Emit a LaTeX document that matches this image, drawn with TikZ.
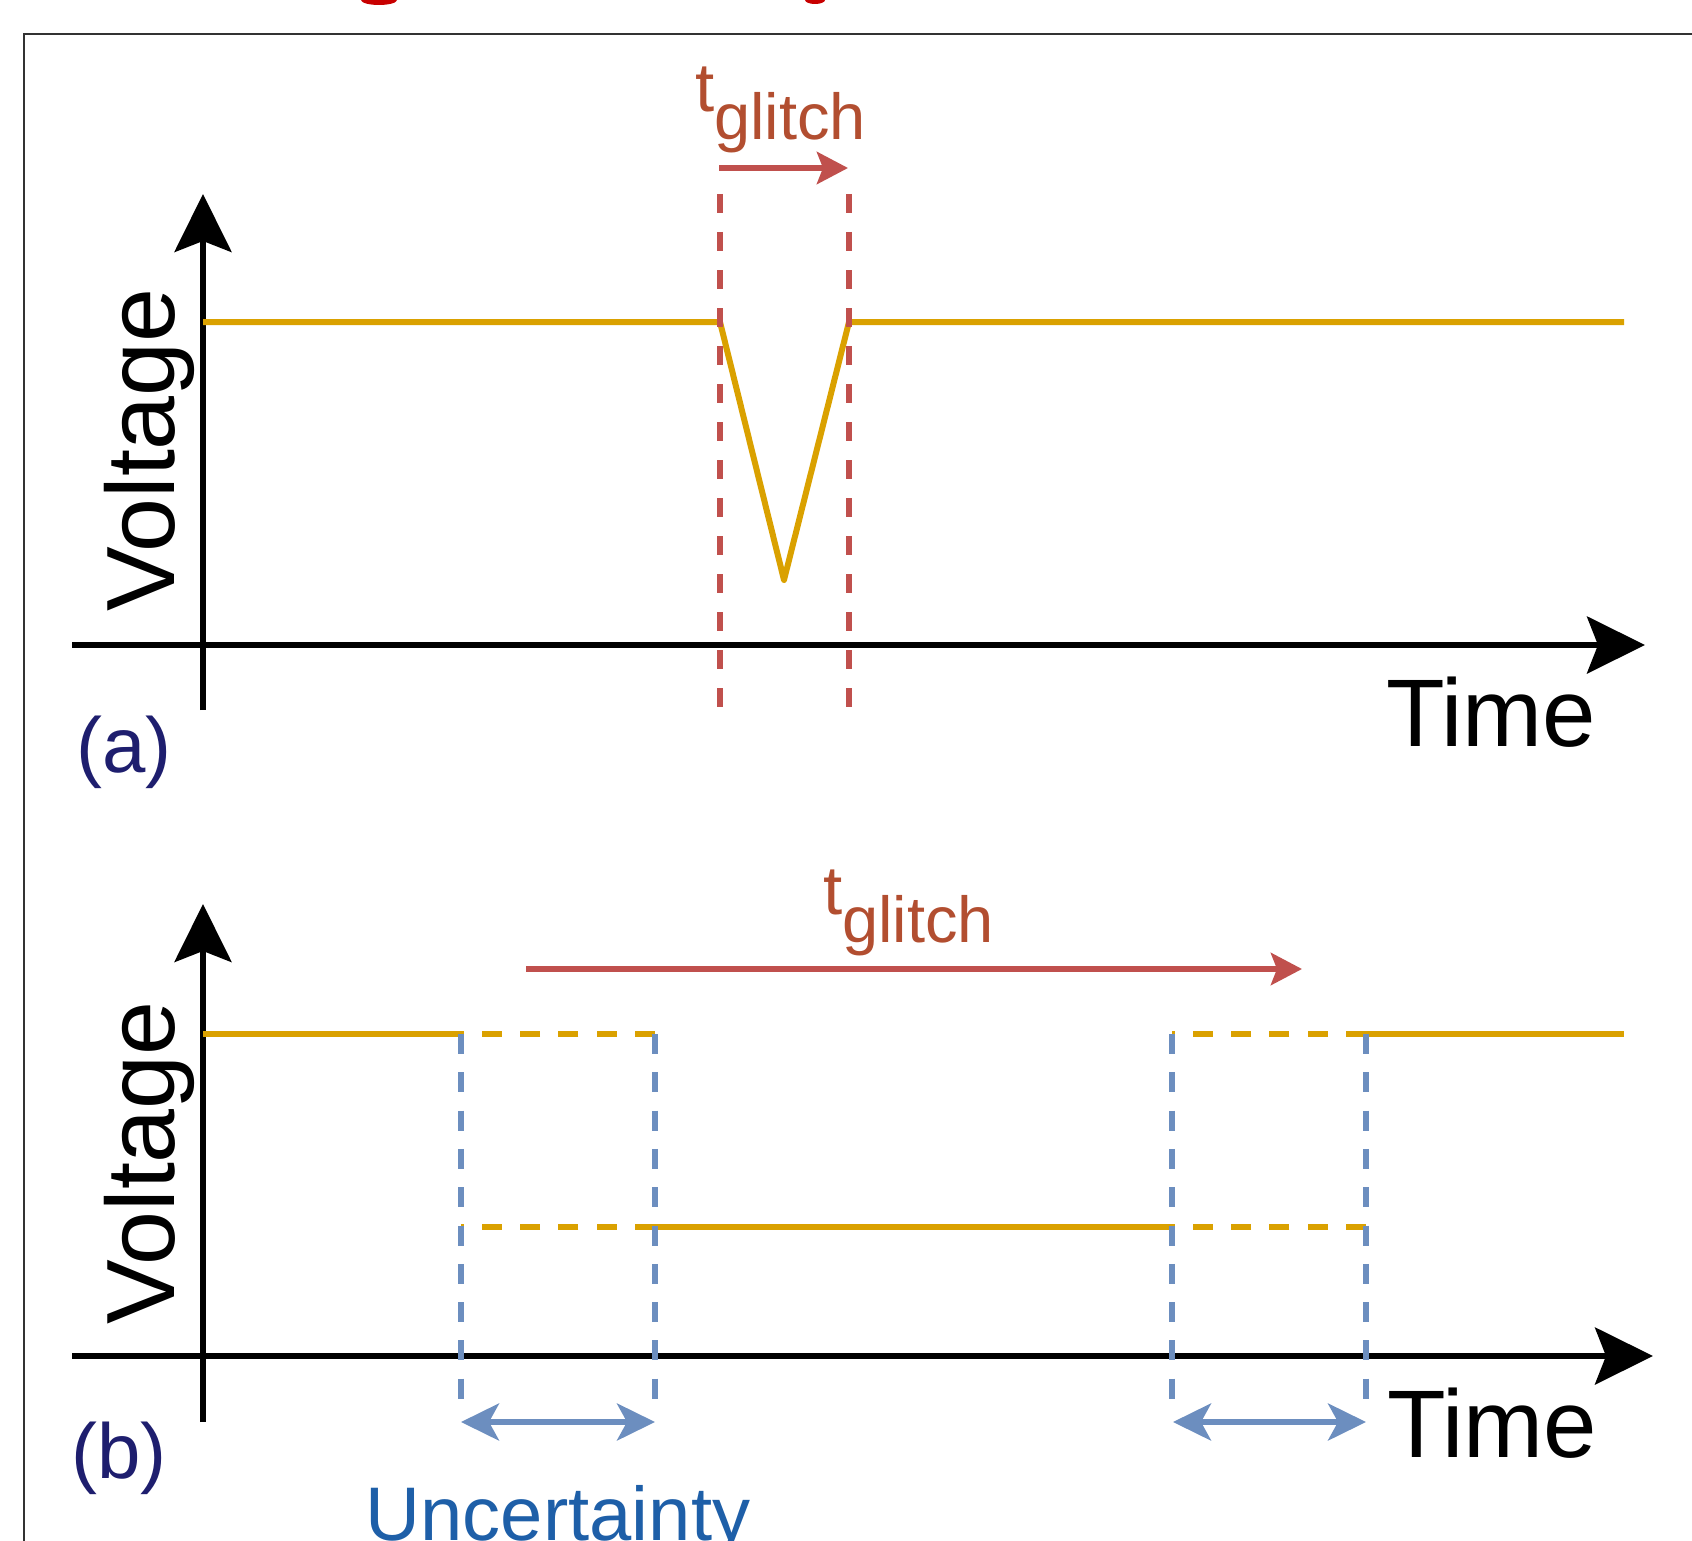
\documentclass[tikz,border=0pt]{standalone}
\usepackage{fontspec}
\setmainfont{Liberation Sans}
\usetikzlibrary{arrows.meta}
\definecolor{wave}{RGB}{218,161,0}
\definecolor{glred}{RGB}{192,80,77}
\definecolor{gltext}{RGB}{178,78,48}
\definecolor{unc}{RGB}{108,142,191}
\definecolor{unctext}{RGB}{30,95,168}
\definecolor{lab}{RGB}{30,30,110}
\definecolor{ttl}{RGB}{200,0,0}
\definecolor{frm}{RGB}{50,50,50}
\tikzset{
  axisline/.style={line width=5.5pt, black, -{Stealth[length=58pt,width=57pt,inset=11pt]}},
  wavel/.style={line width=6pt, wave},
  waved/.style={line width=6pt, wave, dash pattern=on 20pt off 18.3pt},
  reddash/.style={line width=6pt, glred, dash pattern=on 19pt off 19pt},
  bluedash/.style={line width=6pt, unc, dash pattern=on 20pt off 18.3pt},
  redarrow/.style={line width=6pt, glred, -{Stealth[length=31pt,width=32pt,inset=6pt]}},
  bluearrow/.style={line width=5.5pt, unc, {Stealth[length=38pt,width=37pt,inset=10pt]}-{Stealth[length=38pt,width=37pt,inset=10pt]}},
  axlabel/.style={font=\fontsize{96}{110}\selectfont, inner sep=0pt, text=black},
  vlabel/.style={font=\fontsize{97}{110}\selectfont, inner sep=0pt, text=black, rotate=90, anchor=base},
  panlabel/.style={font=\fontsize{78}{90}\selectfont, inner sep=0pt, text=lab, anchor=base},
  gllabel/.style={font=\fontsize{69}{80}\selectfont, inner sep=0pt, text=gltext, anchor=base west},
}
\newcommand{\glsub}{\raisebox{-28pt}{\fontsize{65}{78}\selectfont glitch}}
\begin{document}
\begin{tikzpicture}[x=1pt,y=-1pt]
\useasboundingbox (0,0) rectangle (1692,1541);
% cut-off title fragments
\fill[ttl] (379,0) ellipse (18 and 5);
\fill[ttl] (815,0) ellipse (10 and 4);
% frame
\draw[line width=2pt, frm] (24,1550) -- (24,34) -- (1700,34);

% ---------- panel (a) ----------
\coordinate (ax0) at (72,645);
\coordinate (ax1) at (1645,645);
\coordinate (ay0) at (203,710);
\coordinate (ay1) at (203,194);
\draw[axisline] (ax0) -- (ax1);
\draw[axisline] (ay0) -- (ay1);

\coordinate (wa0) at (203,322);
\coordinate (wa1) at (720,322);
\coordinate (wa2) at (784,580);
\coordinate (wa3) at (849,322);
\coordinate (wa4) at (1624,322);
\draw[wavel, line join=round] (wa0) -- (wa1) -- (wa2) -- (wa3) -- (wa4);

\coordinate (ra1t) at (720,194);
\coordinate (ra1b) at (720,710);
\coordinate (ra2t) at (849,194);
\coordinate (ra2b) at (849,710);
\draw[reddash] (ra1t) -- (ra1b);
\draw[reddash] (ra2t) -- (ra2b);

\coordinate (tga0) at (719,168);
\coordinate (tga1) at (848,168);
\draw[redarrow] (tga0) -- (tga1);
\node[gllabel] (tgla) at (695,112) {t\glsub};

\node[vlabel] (volta) at (174,450) {Voltage};
\node[axlabel, anchor=base west] (timea) at (1386,746) {Time};
\node[panlabel] (laba) at (124,772) {(a)};

% ---------- panel (b) ----------
\coordinate (bx0) at (72,1356);
\coordinate (bx1) at (1653,1356);
\coordinate (by0) at (203,1422);
\coordinate (by1) at (203,904);
\draw[axisline] (bx0) -- (bx1);
\draw[axisline] (by0) -- (by1);

\coordinate (h0) at (203,1034);
\coordinate (h1) at (461,1034);
\coordinate (h2) at (655,1034);
\coordinate (h3) at (1172,1034);
\coordinate (h4) at (1366,1034);
\coordinate (h5) at (1624,1034);
\coordinate (l1) at (461,1227);
\coordinate (l2) at (655,1227);
\coordinate (l3) at (1172,1227);
\coordinate (l4) at (1366,1227);
\draw[wavel] (h0) -- (h1);
\draw[waved] (h2) -- (h1);
\draw[waved] (l2) -- (l1);
\draw[wavel] (l2) -- (l3);
\draw[waved] (l4) -- (l3);
\draw[waved] (h4) -- (h3);
\draw[wavel] (h4) -- (h5);

\coordinate (u1b) at (461,1402);
\coordinate (u2b) at (655,1402);
\coordinate (u3b) at (1172,1402);
\coordinate (u4b) at (1366,1402);
\draw[bluedash] (h1) -- (u1b);
\draw[bluedash] (h2) -- (u2b);
\draw[bluedash] (h3) -- (u3b);
\draw[bluedash] (h4) -- (u4b);

\coordinate (ua1) at (461,1422);
\coordinate (ua2) at (655,1422);
\coordinate (ua3) at (1173,1422);
\coordinate (ua4) at (1366,1422);
\draw[bluearrow] (ua1) -- (ua2);
\draw[bluearrow] (ua3) -- (ua4);

\coordinate (tgb0) at (526,969);
\coordinate (tgb1) at (1302,969);
\draw[redarrow] (tgb0) -- (tgb1);
\node[gllabel] (tglb) at (823,914) {t\glsub};

\node[vlabel] (voltb) at (174,1163) {Voltage};
\node[axlabel, anchor=base west] (timeb) at (1387,1457) {Time};
\node[panlabel] (labb) at (119,1478) {(b)};
\node[font=\fontsize{76}{90}\selectfont, inner sep=0pt, text=unctext, anchor=base] (unc) at (558,1540) {Uncertainty};
\end{tikzpicture}
\end{document}
